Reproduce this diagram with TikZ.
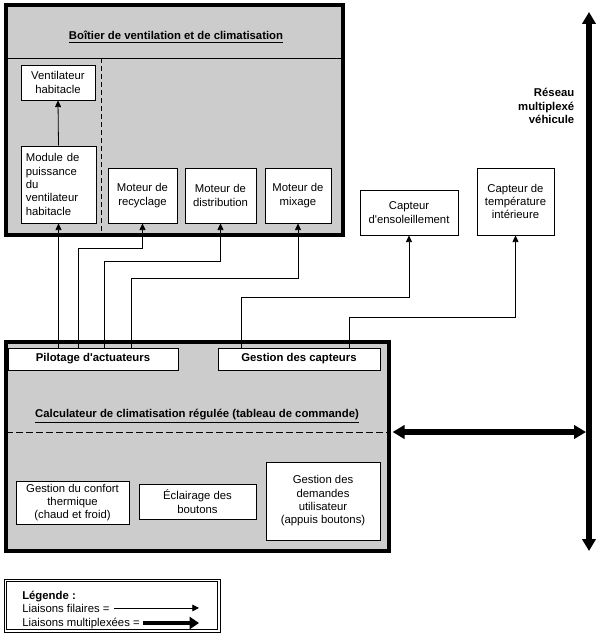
\documentclass[tikz,border=0pt]{standalone}
\usepackage{fontspec}
\setmainfont{Liberation Sans}
\usetikzlibrary{arrows.meta,calc}
\begin{document}
\begin{tikzpicture}[x=0.75pt,y=-0.75pt,
  f/.style={font=\fontsize{8.5}{10}\selectfont},
  ttl/.style={font=\fontsize{8.5}{10}\selectfont\bfseries},
  box/.style={draw,line width=0.6pt,fill=white,inner sep=0pt,align=center,f},
  big/.style={draw,line width=2.4pt,fill=black!20,inner sep=0pt},
  wire/.style={line width=0.6pt},
  arr/.style={wire,-{Triangle[length=5pt,width=4.5pt]}},
  bus/.style={line width=4pt,{Triangle[length=9pt,width=10pt]}-{Triangle[length=9pt,width=10pt]}}]
\useasboundingbox (0,0) rectangle (600,642);
% ---- Boitier ----
\node[big,minimum width=252.75pt,minimum height=172.5pt] (boit) at (174.5,120) {};
\coordinate (hl) at (6,58);
\draw[wire] (hl) -- (hl -| boit.east);
\coordinate (dv) at (101,58);
\draw[wire,dash pattern=on 4pt off 2pt] (dv) -- (dv |- boit.south);
\node[ttl] (tboit) at (176,37) {\underline{Boîtier de ventilation et de climatisation}};
\node[box,minimum width=55.5pt,minimum height=26.25pt] (vent) at (58,82.5) {Ventilateur\\habitacle};
\node[box,minimum width=56.25pt,minimum height=57.75pt,align=left,text width=49pt] (mod) at (58.5,184.5) {Module de\\puissance\\du\\ventilateur\\habitacle};
\node[box,minimum width=51.75pt,minimum height=41.25pt] (rec) at (142.5,195.5) {Moteur de\\recyclage};
\node[box,minimum width=53.25pt,minimum height=41.25pt] (dis) at (220.5,195.5) {Moteur de\\distribution};
\node[box,minimum width=49.5pt,minimum height=41.25pt] (mix) at (298,195.5) {Moteur de\\mixage};
\draw[arr] (mod.north) -- (vent.south);
% ---- Capteurs ----
\node[box,minimum width=73.5pt,minimum height=33.75pt] (ens) at (409,212.5) {Capteur\\d\textquotesingle ensoleillement};
\node[box,minimum width=57.75pt,minimum height=50.25pt] (temp) at (515.5,201.5) {Capteur de\\température\\intérieure};
% ---- Calculateur ----
\node[big,minimum width=287.25pt,minimum height=156.75pt] (calc) at (197.5,446.5) {};
\node[box,ttl,minimum width=127.5pt,minimum height=16.5pt] (pil) at (93,359) {Pilotage d\textquotesingle actuateurs};
\node[box,ttl,minimum width=121.5pt,minimum height=16.5pt] (gc) at (299,359) {Gestion des capteurs};
\node[ttl] (tcalc) at (197,416) {\underline{Calculateur de climatisation régulée (tableau de commande)}};
\coordinate (dh) at (6,432);
\draw[wire,dash pattern=on 5pt off 2.5pt] (dh) -- (dh -| calc.east);
\node[box,minimum width=84.75pt,minimum height=32.25pt] (conf) at (72.5,502.5) {Gestion du confort\\thermique\\(chaud et froid)};
\node[box,minimum width=87.75pt,minimum height=26.25pt] (ecl) at (197.5,501.5) {Éclairage des\\boutons};
\node[box,minimum width=85.5pt,minimum height=58.5pt] (dem) at (323,501) {Gestion des\\demandes\\utilisateur\\(appuis boutons)};
% ---- wires ----
\draw[arr] (pil.north -| mod.south) -- (mod.south);
\draw[arr] ($(pil.north west)+(71,0)$) |- ($(rec.south)+(0,25)$) -- (rec.south);
\draw[arr] ($(pil.north west)+(97,0)$) |- ($(dis.south)+(0,38)$) -- (dis.south);
\draw[arr] ($(pil.north west)+(124,0)$) |- ($(mix.south)+(0,55)$) -- (mix.south);
\draw[arr] ($(gc.north west)+(24,0)$) |- ($(ens.south)+(0,62)$) -- (ens.south);
\draw[arr] ($(gc.north west)+(132,0)$) |- ($(temp.south)+(0,82)$) -- (temp.south);
% ---- bus ----
\coordinate (bt) at (589,12);
\coordinate (bb) at (589,551);
\draw[bus] (bb) -- (bt);
\draw[bus] ($(calc.east |- dh)+(2,0)$) -- ($(bt |- dh)+(-3,0)$);
\node[ttl,align=right,anchor=east] (res) at (579,106) {Réseau\\multiplexé\\véhicule};
% ---- legend ----
\node[draw,line width=0.6pt,minimum width=162pt,minimum height=39.75pt,inner sep=0pt] (leg) at (112,605.5) {};
\draw[line width=0.6pt] ($(leg.north west)+(3,3)$) rectangle ($(leg.south east)+(-3,-3)$);
\node[ttl,anchor=base west,inner sep=0pt] (lg) at (22,599) {Légende :};
\node[f,anchor=base west,inner sep=0pt] (lf) at (22,612) {Liaisons filaires =};
\node[f,anchor=base west,inner sep=0pt] (lm) at (22,626) {Liaisons multiplexées =};
\coordinate (le) at (199,0);
\draw[wire,-{Triangle[length=5pt,width=5pt]}] ($(lf.east)+(4,0)$) -- (lf.east -| le);
\draw[line width=3pt,-{Triangle[length=7pt,width=9pt]}] ($(lm.east)+(3,0)$) -- (lm.east -| le);
\end{tikzpicture}
\end{document}
